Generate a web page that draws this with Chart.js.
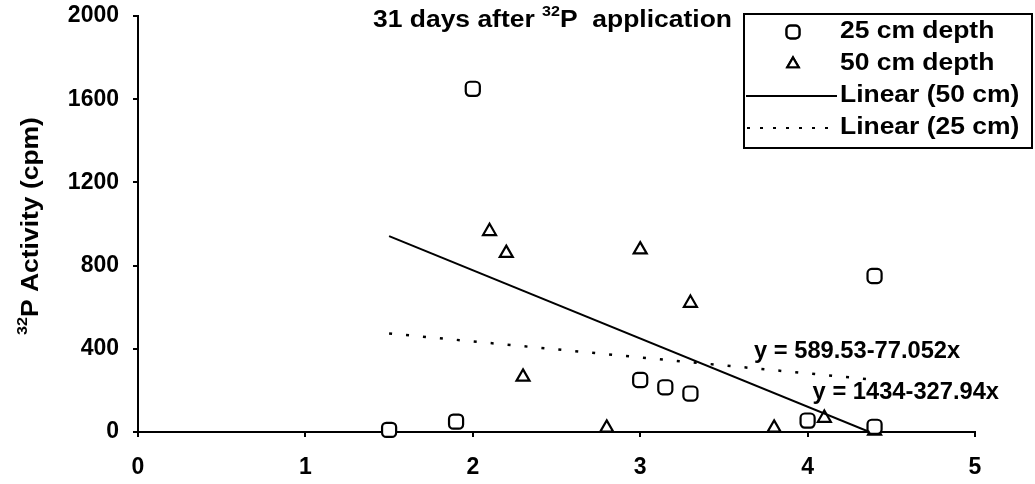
<!DOCTYPE html>
<html>
<head>
<meta charset="utf-8">
<script src="https://cdn.jsdelivr.net/npm/chart.js@4.4.1/dist/chart.umd.min.js"></script>
<style>
  html, body { margin: 0; padding: 0; background: #fff; }
</style>
</head>
<body>
<canvas id="chart" width="1035" height="484"></canvas>
<script>
// 25 cm depth (squares)
const depth25X = [1.5, 1.9, 2.0, 3.0, 3.15, 3.3, 4.0, 4.4, 4.4];
const depth25Y = [10, 50, 1650, 250, 215, 185, 55, 750, 25];
// 50 cm depth (triangles)
const depth50X = [2.1, 2.2, 2.3, 2.8, 3.0, 3.3, 3.8, 4.1, 4.4];
const depth50Y = [965, 860, 265, 20, 877, 620, 20, 67, 5];
// trend lines (end points from the fitted equations)
const trend50X = [1.5, 4.37];
const trend50Y = [942, 0];
const trend25X = [1.5, 4.4];
const trend25Y = [474, 251];

const xTicks = [0, 1, 2, 3, 4, 5];
const yTicks = [0, 400, 800, 1200, 1600, 2000];

const legendLabels = ['25 cm depth', '50 cm depth', 'Linear (50 cm)', 'Linear (25 cm)'];
const eq25 = 'y = 589.53-77.052x';
const eq50 = 'y = 1434-327.94x';

const FONT = '"Liberation Sans", Arial, sans-serif';
const WIDE = 1.15; // the scanned text runs wide

function pts(xs, ys) {
  return xs.map((x, i) => ({ x: x, y: ys[i] }));
}

function partsWidth(ctx, parts, size) {
  let w = 0;
  parts.forEach((p) => {
    ctx.font = 'bold ' + (p.sup ? Math.round(size * 0.62) : size) + 'px ' + FONT;
    w += ctx.measureText(p.t).width;
  });
  return w;
}

// draws text pieces (some raised as superscript), stretched by k, starting at x
function drawParts(ctx, parts, x, y, size, k) {
  ctx.save();
  ctx.translate(x, y);
  ctx.scale(k, 1);
  let cx = 0;
  parts.forEach((p) => {
    if (p.sup) {
      ctx.font = 'bold ' + Math.round(size * 0.62) + 'px ' + FONT;
      ctx.fillText(p.t, cx, -size * 0.4);
    } else {
      ctx.font = 'bold ' + size + 'px ' + FONT;
      ctx.fillText(p.t, cx, 0);
    }
    cx += ctx.measureText(p.t).width;
  });
  ctx.restore();
}

const overlay = {
  id: 'overlay',
  afterDraw(chart) {
    const ctx = chart.ctx;
    const xs = chart.scales.x;
    const ys = chart.scales.y;
    ctx.save();
    ctx.fillStyle = '#000';
    ctx.strokeStyle = '#000';
    ctx.textBaseline = 'middle';
    ctx.textAlign = 'left';

    // title inside the plot
    drawParts(ctx, [{ t: '31 days after ' }, { t: '32', sup: true }, { t: 'P  application' }], 373, 21, 23, WIDE);

    // y axis title, rotated
    const yParts = [{ t: '32', sup: true }, { t: 'P Activity (cpm)' }];
    ctx.save();
    ctx.translate(32, 226);
    ctx.rotate(-Math.PI / 2);
    const w = partsWidth(ctx, yParts, 23) * WIDE;
    drawParts(ctx, yParts, -w / 2, 0, 23, WIDE);
    ctx.restore();

    // equations
    drawParts(ctx, [{ t: eq25 }], xs.getPixelForValue(3.68), ys.getPixelForValue(385), 23, 1.03);
    drawParts(ctx, [{ t: eq50 }], xs.getPixelForValue(4.03), ys.getPixelForValue(188), 23, 1.03);

    // legend box
    const bx = 744, by = 14, bw = 288, bh = 134;
    ctx.fillStyle = '#fff';
    ctx.fillRect(bx, by, bw, bh);
    ctx.lineWidth = 2;
    ctx.strokeRect(bx, by, bw, bh);
    ctx.fillStyle = '#000';
    const rowY = [32, 64, 96, 128];
    legendLabels.forEach((t, i) => drawParts(ctx, [{ t: t }], 840, rowY[i], 23, WIDE));
    // markers
    ctx.lineWidth = 2.2;
    ctx.fillStyle = '#fff';
    Chart.helpers.drawPoint(ctx, { pointStyle: 'rectRounded', radius: 7.5, borderWidth: 2 }, 793, rowY[0]);
    ctx.fill();
    ctx.stroke();
    Chart.helpers.drawPoint(ctx, { pointStyle: 'triangle', radius: 6.5, borderWidth: 2 }, 793, rowY[1]);
    ctx.fill();
    ctx.stroke();
    ctx.lineWidth = 2;
    ctx.beginPath();
    ctx.moveTo(746, rowY[2]);
    ctx.lineTo(837, rowY[2]);
    ctx.stroke();
    ctx.setLineDash([3, 10]);
    ctx.beginPath();
    ctx.moveTo(747, rowY[3]);
    ctx.lineTo(837, rowY[3]);
    ctx.stroke();
    ctx.restore();
  }
};

const tickFont = { family: FONT, size: 23, weight: 'bold' };

const ctx = document.getElementById('chart').getContext('2d');
const myChart = new Chart(ctx, {
  type: 'scatter',
  data: {
    datasets: [
      {
        label: 'Linear (50 cm)',
        type: 'line',
        data: pts(trend50X, trend50Y),
        borderColor: '#000',
        borderWidth: 2,
        pointRadius: 0,
        fill: false,
      },
      {
        label: 'Linear (25 cm)',
        type: 'line',
        data: pts(trend25X, trend25Y),
        borderColor: '#000',
        borderWidth: 2.5,
        borderDash: [3, 14],
        pointRadius: 0,
        fill: false,
      },
      {
        label: '25 cm depth',
        data: pts(depth25X, depth25Y),
        pointStyle: 'rectRounded',
        pointRadius: 8.2,
        borderColor: '#000',
        backgroundColor: '#fff',
        borderWidth: 2.2,
        clip: false,
      },
      {
        label: '50 cm depth',
        data: pts(depth50X, depth50Y),
        pointStyle: 'triangle',
        pointRadius: 7.5,
        borderColor: '#000',
        backgroundColor: '#fff',
        borderWidth: 2.2,
        clip: false,
      },
    ],
  },
  options: {
    responsive: false,
    animation: false,
    layout: { padding: { left: 0, right: 60, top: 16, bottom: 0 } },
    plugins: { legend: { display: false }, tooltip: { enabled: false } },
    scales: {
      x: {
        type: 'linear',
        min: 0,
        max: 5,
        afterBuildTicks: (s) => { s.ticks = xTicks.map((v) => ({ value: v })); },
        afterFit: (s) => { s.height = 52; s.paddingLeft = 0; s.paddingRight = 0; },
        ticks: { color: '#000', font: tickFont, padding: 17, callback: (v) => String(v) },
        grid: { drawOnChartArea: false, drawTicks: true, tickLength: 5, color: '#000', lineWidth: 2 },
        border: { color: '#000', width: 2 },
      },
      y: {
        min: 0,
        max: 2000,
        afterBuildTicks: (s) => { s.ticks = yTicks.map((v) => ({ value: v })); },
        afterFit: (s) => { s.width = 138; s.paddingTop = 0; s.paddingBottom = 0; },
        ticks: { color: '#000', font: tickFont, padding: 14, callback: (v) => String(v) },
        grid: { drawOnChartArea: false, drawTicks: true, tickLength: 5, color: '#000', lineWidth: 2 },
        border: { color: '#000', width: 2 },
      },
    },
  },
  plugins: [overlay],
});
</script>
</body>
</html>
